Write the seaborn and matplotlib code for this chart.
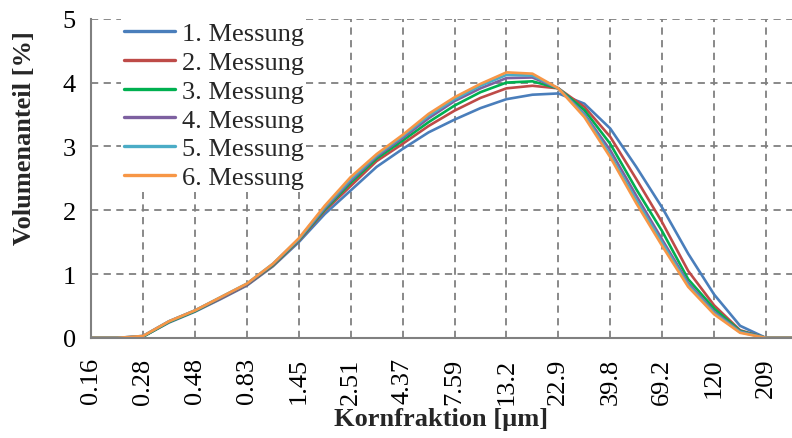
import numpy as np
import pandas as pd
import matplotlib
matplotlib.use("Agg")
import matplotlib.pyplot as plt
import seaborn as sns

# Kornfraktion (Kategorie-Achse, Beschriftung an jedem ganzen Index)
tick_labels = ["0.16", "0.28", "0.48", "0.83", "1.45", "2.51", "4.37",
               "7.59", "13.2", "22.9", "39.8", "69.2", "120", "209"]
# Messpunkte in halben Kategorie-Schritten
pos = [0, 0.5, 1, 1.5, 2, 2.5, 3, 3.5, 4, 4.5, 5, 5.5, 6, 6.5,
       7, 7.5, 8, 8.5, 9, 9.5, 10, 10.5, 11, 11.5, 12, 12.5, 13, 13.5]

m1 = [0, 0, 0.02, 0.24, 0.41, 0.61, 0.82, 1.12, 1.50, 1.94, 2.31, 2.68, 2.96, 3.22,
      3.42, 3.60, 3.74, 3.81, 3.83, 3.67, 3.28, 2.68, 2.04, 1.32, 0.68, 0.19, 0, 0]
m2 = [0, 0, 0.02, 0.25, 0.42, 0.62, 0.83, 1.13, 1.52, 1.99, 2.38, 2.77, 3.04, 3.32,
      3.56, 3.76, 3.91, 3.95, 3.91, 3.62, 3.15, 2.49, 1.81, 1.05, 0.51, 0.12, 0, 0]
m3 = [0, 0, 0.02, 0.25, 0.42, 0.63, 0.84, 1.14, 1.53, 2.01, 2.43, 2.81, 3.09, 3.38,
      3.64, 3.85, 4.00, 4.02, 3.91, 3.57, 3.04, 2.33, 1.67, 0.92, 0.46, 0.11, 0, 0]
m4 = [0, 0, 0.03, 0.26, 0.43, 0.63, 0.84, 1.15, 1.54, 2.03, 2.46, 2.84, 3.13, 3.44,
      3.71, 3.91, 4.07, 4.08, 3.91, 3.51, 2.94, 2.23, 1.54, 0.86, 0.41, 0.10, 0, 0]
m5 = [0, 0, 0.03, 0.26, 0.43, 0.64, 0.85, 1.16, 1.55, 2.05, 2.49, 2.86, 3.16, 3.48,
      3.74, 3.95, 4.12, 4.11, 3.91, 3.49, 2.87, 2.16, 1.49, 0.83, 0.39, 0.09, 0, 0]
m6 = [0, 0, 0.03, 0.26, 0.43, 0.64, 0.85, 1.16, 1.56, 2.07, 2.52, 2.88, 3.18, 3.51,
      3.77, 3.98, 4.16, 4.14, 3.91, 3.46, 2.83, 2.11, 1.44, 0.80, 0.37, 0.08, 0, 0]

names = ["1. Messung", "2. Messung", "3. Messung", "4. Messung", "5. Messung", "6. Messung"]
colors = ["#4A7EBB", "#BE4B48", "#00B050", "#7D60A0", "#4BACC6", "#F79646"]

df = pd.concat(
    [pd.DataFrame({"pos": pos, "wert": v, "messung": n})
     for n, v in zip(names, [m1, m2, m3, m4, m5, m6])],
    ignore_index=True,
)

sns.set_theme(style="white")
plt.rcParams["font.family"] = ["Liberation Serif", "DejaVu Serif"]

fig = plt.figure(figsize=(7.92, 4.39), dpi=100)
ax = fig.add_axes([0.115, 0.228, 0.885, 0.727])

sns.lineplot(data=df, x="pos", y="wert", hue="messung", palette=colors,
             linewidth=1.9, ax=ax, legend=True)

ax.set_xlim(0, 13.5)
ax.set_ylim(0, 5)
ax.set_xticks(range(len(tick_labels)))
ax.set_xticklabels(tick_labels, rotation=90, fontsize=19)
ax.set_yticks(range(6))
ax.set_yticklabels([str(i) for i in range(6)], fontsize=19)
ax.tick_params(axis="both", direction="inout", length=10, width=1.3,
               color="#808080", labelcolor="black")
ax.tick_params(axis="x", pad=9)
ax.tick_params(axis="y", pad=6)

ax.grid(True, linestyle=(0, (4, 3)), color="#808080", linewidth=1.3)
for s in ["top", "right"]:
    ax.spines[s].set_visible(False)
for s in ["left", "bottom"]:
    ax.spines[s].set_color("#808080")
    ax.spines[s].set_linewidth(1.5)

ax.set_xlabel("Kornfraktion [µm]", fontsize=19, fontweight="bold")
ax.set_ylabel("Volumenanteil [%]", fontsize=19, fontweight="bold")
ax.yaxis.set_label_coords(-0.078, 0.63)
ax.xaxis.set_label_coords(0.5, -0.215)

leg = ax.legend(loc="upper left", bbox_to_anchor=(0.024, 1.04), fontsize=19,
                frameon=True, framealpha=1, edgecolor="none", facecolor="white",
                handlelength=1.95, handletextpad=0.25, labelspacing=0.2,
                borderpad=0.1, fancybox=False)
for line in leg.get_lines():
    line.set_linewidth(2.4)

fig.savefig("out.png", dpi=100)
